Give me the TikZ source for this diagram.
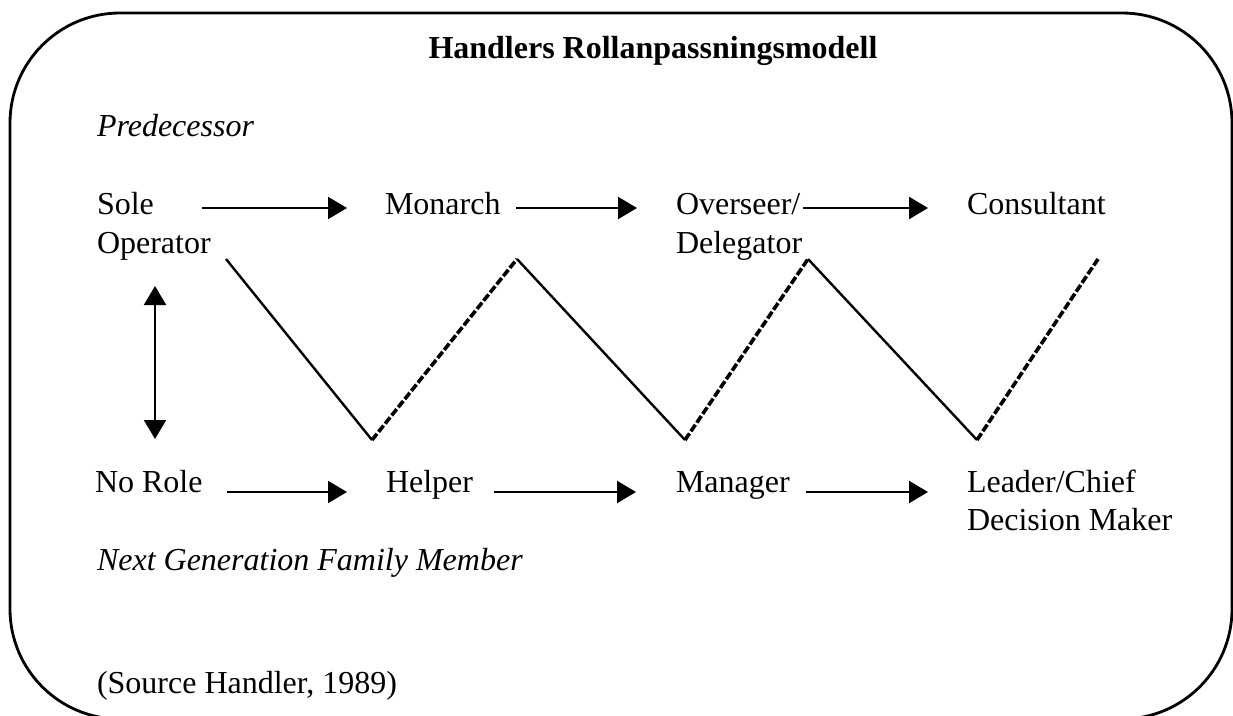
\documentclass[tikz,border=0pt]{standalone}
\usepackage{fontspec}
\setmainfont{Liberation Serif}
\usetikzlibrary{arrows.meta}
\tikzset{
  txt/.style={anchor=base west, inner sep=0pt, outer sep=0pt, font=\fontsize{32}{38}\selectfont},
  ttl/.style={anchor=base, inner sep=0pt, font=\fontsize{32}{38}\selectfont\bfseries},
  arr/.style={line width=2.2pt, -{Triangle[length=19pt,width=22pt]}},
  darr/.style={line width=2.2pt, {Triangle[length=19pt,width=22pt]}-{Triangle[length=19pt,width=22pt]}},
  solidz/.style={line width=2.4pt, line join=miter},
  dashz/.style={line width=3.6pt, dash pattern=on 8pt off 2.5pt},
  frame/.style={line width=2.8pt, rounded corners=110pt}
}
\begin{document}
\begin{tikzpicture}[x=1pt,y=-1pt]
\useasboundingbox (0,0) rectangle (1233,715);
\clip (0,0) rectangle (1233,715);
\draw[frame] (10,13) rectangle (1232,719);

\node[ttl] (title) at (653,58) {Handlers Rollanpassningsmodell};
\node[txt] (pred) at (97,136) {\itshape Predecessor};
\node[txt] (sole) at (97,214) {Sole};
\node[txt] (operator) at (97,253) {Operator};
\node[txt] (monarch) at (385,214) {Monarch};
\node[txt] (overseer) at (676,214) {Overseer/};
\node[txt] (delegator) at (676,253) {Delegator};
\node[txt] (consultant) at (967,214) {Consultant};
\node[txt] (norole) at (95,492) {No Role};
\node[txt] (helper) at (386,492) {Helper};
\node[txt] (manager) at (676,492) {Manager};
\node[txt] (leader) at (967,492) {Leader/Chief};
\node[txt] (decision) at (967,530) {Decision Maker};
\node[txt] (nextgen) at (97,570) {\itshape Next Generation Family Member};
\node[txt] (source) at (97,693) {(Source Handler, 1989)};

% arrow end points
\coordinate (t1s) at (202,208); \coordinate (t1e) at (347,208);
\coordinate (t2s) at (516,208); \coordinate (t2e) at (637,208);
\coordinate (t3s) at (803,208); \coordinate (t3e) at (928,208);
\coordinate (b1s) at (227,492); \coordinate (b1e) at (347,492);
\coordinate (b2s) at (494,492); \coordinate (b2e) at (636,492);
\coordinate (b3s) at (806,492); \coordinate (b3e) at (928,492);
\coordinate (vt) at (155,286); \coordinate (vb) at (155,439);

\draw[arr] (t1s) -- (t1e);
\draw[arr] (t2s) -- (t2e);
\draw[arr] (t3s) -- (t3e);
\draw[arr] (b1s) -- (b1e);
\draw[arr] (b2s) -- (b2e);
\draw[arr] (b3s) -- (b3e);
\draw[darr] (vt) -- (vb);

% zigzag vertices
\coordinate (z0) at (226,259);
\coordinate (z1) at (372,440);
\coordinate (z2) at (517,259);
\coordinate (z3) at (685,440);
\coordinate (z4) at (808,259);
\coordinate (z5) at (977,440);
\coordinate (z6) at (1098,259);

\draw[solidz] (z0) -- (z1);
\draw[dashz] (z1) -- (z2);
\draw[solidz] (z2) -- (z3);
\draw[dashz] (z3) -- (z4);
\draw[solidz] (z4) -- (z5);
\draw[dashz] (z5) -- (z6);
\end{tikzpicture}
\end{document}
